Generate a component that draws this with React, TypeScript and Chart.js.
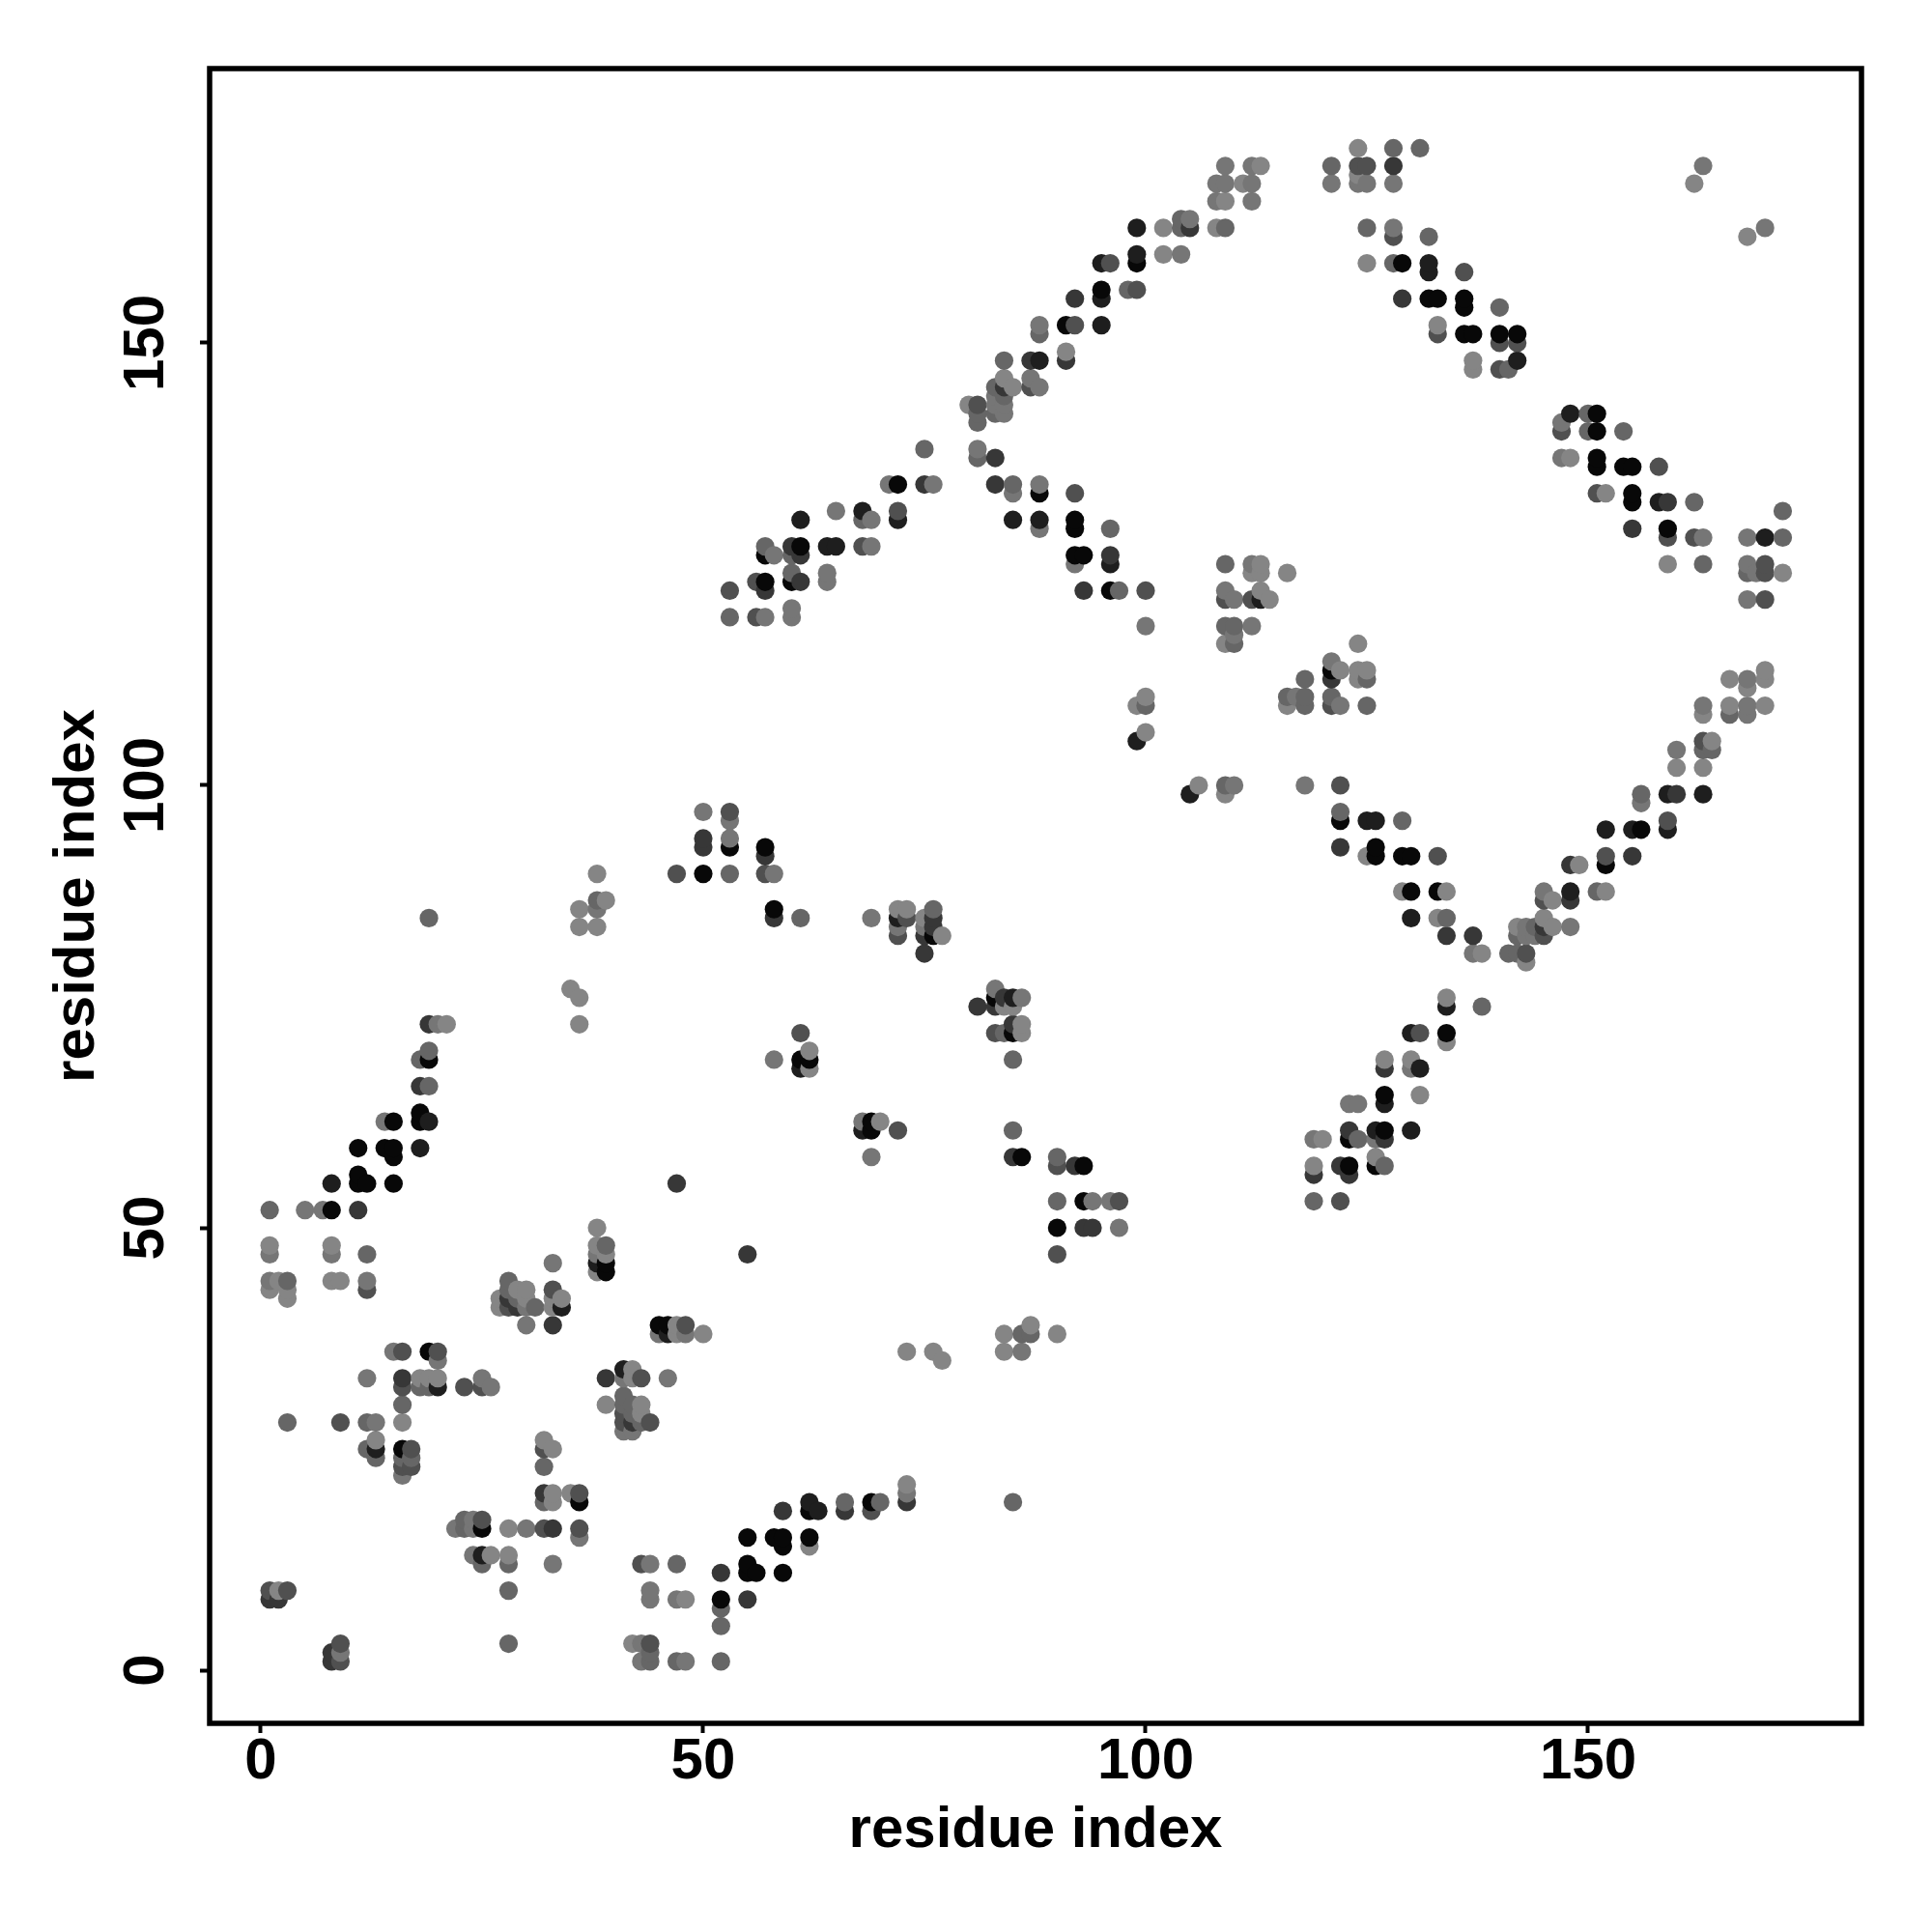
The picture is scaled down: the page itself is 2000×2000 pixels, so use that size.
import React, { useEffect, useRef } from "react";
import { Chart, registerables } from "chart.js";

Chart.register(...registerables);

// grey levels of the contact marks
const K = 8, B = 30, D = 55, C = 80, M = 102, N = 118, L = 133;

const tickValues = [0, 50, 100, 150];
const xTitle = "residue index";
const yTitle = "residue index";

// each entry: residue x, residue y, grey level
const blockLowerLeft = [
  [1,48,L],[1,47,N],[8,48,L],[8,47,N],[12,47,M],[1,44,N],[2,44,L],[3,44,M],[8,44,L],[9,44,L],[12,44,N],
  [1,43,L],[3,43,L],[12,43,C],[3,42,L],[28,44,M],[28,43,M],[29,43,L],[30,43,L],[27,42,L],[28,42,D],[29,42,M],
  [30,42,L],[27,41,L],[28,41,C],[29,41,D],[30,41,N],[31,41,M],[30,39,N],[33,39,D],[33,43,C],[33,42,L],[33,41,L],
  [34,42,L],[34,41,B],[33,46,N],[38,50,L],[38,48,L],[39,48,M],[38,47,N],[39,47,L],[38,46,B],[39,46,K],[38,45,L],
  [39,45,K],[45,39,K],[46,39,K],[47,39,L],[48,39,C],[45,38,N],[46,38,B],[47,38,L],[48,38,N],[50,38,L],
  [15,36,N],[16,36,C],[19,36,K],[20,36,C],[20,35,N],[12,33,N],[16,33,D],[18,33,L],[19,33,L],[20,33,L],[25,33,N],
  [16,32,C],[18,32,M],[19,32,M],[20,32,B],[23,32,C],[25,32,C],[26,32,N],[16,30,M],[3,28,M],[9,28,C],[12,28,M],
  [13,28,N],[16,28,L],[13,26,L],[12,25,M],[13,25,B],[13,24,M],[16,25,K],[17,25,C],[16,24,M],[17,24,M],[16,23,C],
  [17,23,C],[16,22,N],[39,33,D],[41,34,B],[42,34,L],[41,33,N],[42,33,L],[43,33,C],[46,33,N],[39,30,L],[41,31,M],
  [41,30,M],[42,30,M],[43,30,L],[41,29,C],[42,29,M],[43,29,L],[41,28,C],[42,28,D],[43,28,M],[44,28,C],[41,27,N],
  [42,27,N],[32,26,L],[33,25,L],[32,25,C],[32,23,M],[32,20,D],[33,20,L],[35,20,L],[36,20,C],[32,19,M],[33,19,L],
  [36,19,K],[23,17,M],[24,17,N],[25,17,C],[22,16,N],[23,16,M],[24,16,N],[25,16,K],[28,16,L],[30,16,N],[32,16,C],
  [33,16,D],[36,16,C],[36,15,N],[24,13,N],[25,13,B],[26,13,L],[28,13,L],[25,12,M],[28,12,M],[33,12,N],[43,12,C],
  [44,12,N],[47,12,M],[1,9,C],[2,9,L],[3,9,C],[28,9,M],[44,9,N],[1,8,D],[2,8,D],[44,8,N],[47,8,N],[48,8,L],
  [9,3,C],[8,2,D],[9,2,N],[8,1,D],[9,1,C],[28,3,M],[42,3,L],[43,3,N],[44,3,C],[44,2,M],[43,1,N],[44,1,M],[47,1,M],[48,1,N],
];

const blockUpperLeft = [
  [19,85,M],[19,73,D],[20,73,N],[21,73,L],[19,70,M],[18,69,M],[19,69,K],[18,66,D],[19,66,M],[18,63,K],[18,62,K],
  [19,62,B],[14,62,N],[15,62,K],[11,59,K],[14,59,K],[15,59,K],[18,59,B],[15,58,K],[11,56,K],[8,55,B],[11,55,K],
  [12,55,K],[15,55,K],[47,55,D],[1,52,M],[5,52,N],[7,52,N],[8,52,K],[11,52,D],[38,87,M],[39,87,L],[38,86,N],
  [36,86,L],[36,84,L],[38,84,L],[38,90,L],[35,77,L],[36,76,L],[36,73,L],
];

const blockMiddle = [
  [50,97,N],[53,97,C],[53,96,N],[50,94,D],[53,94,N],[50,93,D],[53,93,K],[57,93,K],[57,92,D],[47,90,C],[50,90,K],
  [53,90,M],[57,90,C],[58,90,N],[58,86,K],[58,85,D],[61,85,M],[69,85,N],[72,85,B],[73,85,C],[72,86,L],[73,86,L],
  [76,86,M],[76,85,D],[75,85,L],[72,84,N],[75,84,N],[76,84,D],[72,83,C],[75,83,D],[76,83,K],[77,83,L],[75,81,D],
  [83,77,N],[81,75,D],[83,76,K],[84,76,D],[85,76,B],[86,76,N],[83,75,D],[84,75,L],[85,75,L],[83,72,C],[84,72,M],
  [85,73,D],[85,72,K],[86,73,L],[86,72,L],[85,69,M],[61,72,C],[58,69,N],[61,69,K],[62,69,K],[62,70,L],[61,68,B],
  [62,68,L],[68,62,N],[69,62,K],[70,62,L],[68,61,B],[69,61,K],[72,61,C],[69,58,N],[85,61,M],[85,58,D],[86,58,K],
  [90,58,M],[90,57,C],[92,57,D],[93,57,K],[90,53,M],[93,53,K],[94,53,N],[96,53,N],[97,53,C],[90,50,K],[93,50,D],
  [94,50,D],[97,50,N],[90,47,C],[55,47,D],[73,36,L],[76,36,L],[77,35,L],[84,38,L],[84,36,L],[86,36,N],[86,38,M],
  [87,38,M],[87,39,L],[90,38,L],
];

const blockLowChain = [
  [73,21,L],[73,20,N],[73,19,D],[62,19,B],[66,19,M],[69,19,K],[70,19,M],[85,19,M],[59,18,D],[62,18,K],[63,18,B],
  [66,18,D],[69,18,C],[55,15,K],[58,15,K],[59,15,K],[62,15,K],[59,14,K],[62,14,L],[55,12,K],[52,11,D],[55,11,K],
  [56,11,K],[59,11,K],[52,8,K],[55,8,D],[52,7,M],[52,5,M],[52,1,M],
];

const blockRisingLower = [
  [129,88,L],[130,88,K],[133,88,K],[134,88,L],[130,85,B],[133,85,L],[134,85,M],[134,83,D],[137,83,D],[137,81,N],
  [138,81,L],[141,81,M],[142,81,M],[143,81,C],[143,80,L],[134,76,L],[134,75,B],[138,75,M],[130,72,B],[131,72,C],
  [134,72,K],[134,71,L],[127,69,L],[130,69,L],[127,68,D],[130,68,N],[131,68,B],[127,65,K],[131,65,L],[127,64,B],
  [123,64,N],[124,64,N],[123,61,D],[126,61,B],[127,61,K],[130,61,B],[123,60,K],[124,60,M],[126,60,N],[127,60,D],
  [119,60,N],[120,60,L],[126,58,L],[119,57,L],[122,57,D],[123,57,K],[126,57,K],[127,57,M],[119,56,D],[123,56,D],
  [119,53,M],[122,53,C],
];

const blockRisingUpper = [
  [124,116,L],[121,114,N],[122,113,L],[121,113,K],[121,112,D],[118,112,M],[124,113,L],[125,113,L],[124,112,L],
  [125,112,M],[116,110,M],[117,110,N],[118,110,M],[116,109,L],[118,109,M],[121,110,M],[121,109,C],[122,109,N],
  [125,109,M],[118,100,N],[122,100,C],[122,97,M],[122,96,K],[125,96,B],[126,96,B],[129,96,M],[122,93,D],[125,92,L],
  [126,93,K],[126,92,K],[129,92,K],[130,92,K],[133,92,C],[142,84,L],[143,84,N],[144,84,M],[145,85,L],[145,84,D],
  [146,84,L],[148,84,N],[142,83,M],[143,83,N],[144,83,N],[145,83,C],[145,88,N],[145,87,C],[146,87,L],[148,88,B],
  [148,87,D],[151,88,M],[152,88,L],[148,91,D],[149,91,L],[152,92,C],[152,91,K],[155,92,D],[152,95,B],[155,95,B],
  [156,95,K],[159,96,C],[159,95,B],[156,99,M],[156,98,N],[159,99,B],[160,99,D],[163,99,B],[160,104,N],[160,102,L],
  [163,102,L],[163,105,C],[164,105,L],[163,104,M],[164,104,M],[163,109,N],[163,108,L],[166,109,L],[166,108,M],
  [168,109,N],[168,108,N],[170,109,L],[166,112,L],[168,112,N],[168,111,L],[170,113,L],[170,112,L],
];

const blockCentre = [
  [100,110,L],[99,109,L],[100,109,M],[100,106,L],[99,105,B],[106,100,L],[105,99,B],[109,100,M],[109,99,L],[110,100,N],
  [109,125,M],[112,125,N],[113,125,L],[112,124,L],[113,124,L],[116,124,L],[109,122,N],[109,121,C],[110,121,N],
  [112,121,C],[113,122,L],[113,121,B],[114,121,L],[109,118,M],[110,118,M],[112,118,N],[110,117,N],[109,116,L],[110,116,M],
];

const blockTopRight = [
  [124,172,L],[128,172,M],[131,172,M],[121,170,M],[124,170,C],[125,170,C],[128,170,D],[121,168,N],[124,169,L],
  [124,168,N],[125,168,N],[128,168,N],[163,170,N],[162,168,L],[170,163,N],[168,162,L],[125,163,M],[128,163,N],
  [128,162,C],[132,162,M],[125,159,L],[128,159,M],[129,159,K],[132,159,B],[132,158,B],[136,158,C],[129,155,D],
  [132,155,K],[133,155,K],[136,155,K],[136,154,K],[140,154,M],[133,152,L],[133,151,C],[136,151,K],[137,151,K],
  [140,151,K],[142,151,K],[140,150,C],[142,150,C],[137,148,L],[142,148,B],[137,147,L],[140,147,C],[141,147,M],
  [148,142,B],[150,142,M],[151,142,K],[147,141,N],[147,140,C],[150,140,M],[151,140,K],[154,140,M],[147,137,N],
  [148,137,L],[151,137,K],[151,136,K],[154,136,K],[155,136,K],[158,136,C],[151,133,C],[152,133,L],[155,133,K],
  [155,132,K],[158,132,B],[159,132,D],[162,132,M],[172,131,M],[155,129,D],[159,129,K],[159,128,C],[162,128,C],
  [163,128,N],[168,128,N],[170,128,B],[172,128,M],[159,125,L],[163,125,M],[168,125,N],[170,125,C],[168,124,M],
  [169,124,N],[170,124,C],[172,124,L],[168,121,N],[170,121,C],
];

const blockTopDiagonal = [
  [109,170,N],[112,170,N],[113,170,L],[108,168,N],[109,168,N],[111,168,L],[112,168,N],[108,166,N],[109,166,L],
  [112,166,N],[104,164,M],[105,164,N],[99,163,B],[102,163,L],[104,163,M],[105,163,D],[108,163,L],[109,163,M],
  [99,160,B],[102,160,L],[104,160,N],[95,159,B],[96,159,C],[99,159,K],[95,156,K],[98,156,M],[99,156,C],[92,155,D],
  [95,155,B],[88,152,N],[91,152,K],[92,152,C],[95,152,B],[88,151,M],[91,149,L],[84,148,M],[87,148,D],[88,148,B],
  [91,148,D],[84,146,L],[87,146,N],[83,145,M],[84,145,D],[85,145,L],[87,145,C],[88,145,N],[83,144,N],[84,144,M],
  [80,143,L],[81,143,C],[83,143,N],[84,143,N],[81,142,M],[83,142,M],[84,142,N],[81,141,M],[81,138,N],[81,137,M],
  [83,137,D],[83,134,D],[85,134,M],[88,134,N],[85,133,N],[88,133,K],[92,133,C],
];

const blockUpperArc = [
  [75,138,M],[71,134,N],[72,134,K],[75,134,D],[76,134,N],[65,131,N],[68,131,B],[72,131,C],[61,130,B],[68,130,M],
  [69,130,N],[72,130,B],[85,130,B],[88,130,B],[92,130,K],[88,129,N],[92,129,K],[96,129,M],[57,127,M],[60,127,D],
  [61,127,K],[64,127,B],[65,127,B],[68,127,C],[69,127,N],[57,126,K],[58,126,N],[60,126,M],[61,126,D],[92,126,K],
  [93,126,K],[96,126,D],[92,125,N],[96,125,B],[60,124,M],[64,124,N],[56,123,C],[57,123,K],[60,123,K],[61,123,D],
  [64,123,N],[53,122,C],[57,122,D],[93,122,D],[96,122,K],[97,122,M],[100,122,C],[60,120,N],[53,119,M],[56,119,C],
  [57,119,N],[60,119,N],[100,118,N],
];

const contacts = [
  ...blockLowerLeft, ...blockUpperLeft, ...blockMiddle, ...blockLowChain, ...blockRisingLower,
  ...blockRisingUpper, ...blockCentre, ...blockTopRight, ...blockTopDiagonal, ...blockUpperArc,
].sort((a, b) => a[0] - b[0] || a[1] - b[1]);

const FONT = "'Liberation Sans', Arial, sans-serif";

const boxPlugin = {
  id: "box",
  afterDraw(chart: any) {
    const { ctx, chartArea: a } = chart;
    ctx.save();
    ctx.lineWidth = 5.5;
    ctx.strokeStyle = "#000";
    ctx.lineJoin = "miter";
    ctx.strokeRect(a.left, a.top, a.right - a.left, a.bottom - a.top);
    ctx.restore();
  },
};

export default function App() {
  const ref = useRef<HTMLCanvasElement>(null);
  useEffect(() => {
    const chart = new Chart(ref.current!, {
      type: "scatter",
      data: {
        datasets: [
          {
            data: contacts.map(([x, y]) => ({ x, y })),
            pointRadius: 9.6,
            pointHoverRadius: 9.6,
            pointBorderWidth: 0,
            pointBackgroundColor: contacts.map(([, , g]) => `rgb(${g},${g},${g})`),
          },
        ],
      },
      options: {
        animation: false,
        responsive: false,
        devicePixelRatio: 1,
        layout: { padding: { top: 71, right: 73, left: 0, bottom: 0 } },
        plugins: { legend: { display: false }, tooltip: { enabled: false } },
        scales: {
          x: {
            type: "linear",
            min: -5.786,
            max: 180.9,
            afterBuildTicks: (s: any) => { s.ticks = tickValues.map((value) => ({ value })); },
            afterFit: (s: any) => { s.height = 216; },
            border: { display: false },
            grid: { drawOnChartArea: false, drawTicks: true, tickLength: 10, tickWidth: 4, tickColor: "#000" },
            ticks: {
              autoSkip: false,
              maxRotation: 0,
              minRotation: 0,
              padding: -6,
              color: "#000",
              font: { family: FONT, weight: "bold", size: 60 },
            },
            title: {
              display: true,
              text: xTitle,
              color: "#000",
              font: { family: FONT, weight: "bold", size: 60 },
              padding: { top: 0, bottom: 69 },
            },
          },
          y: {
            type: "linear",
            min: -6,
            max: 181,
            afterBuildTicks: (s: any) => { s.ticks = tickValues.map((value) => ({ value })); },
            afterFit: (s: any) => { s.width = 217; },
            border: { display: false },
            grid: { drawOnChartArea: false, drawTicks: true, tickLength: 10, tickWidth: 4, tickColor: "#000" },
            ticks: {
              autoSkip: false,
              minRotation: 90,
              maxRotation: 90,
              crossAlign: "center",
              padding: 4.5,
              color: "#000",
              font: { family: FONT, weight: "bold", size: 60 },
            },
            title: {
              display: true,
              text: yTitle,
              color: "#000",
              font: { family: FONT, weight: "bold", size: 60 },
              padding: { top: 44.5, bottom: 0 },
            },
          },
        },
      } as any,
      plugins: [boxPlugin],
    } as any);
    return () => chart.destroy();
  }, []);
  return (
    <div style={{ position: "absolute", left: 0, top: 0, width: 2000, height: 2000, background: "#fff" }}>
      <canvas ref={ref} width={2000} height={2000} style={{ display: "block" }} />
    </div>
  );
}
